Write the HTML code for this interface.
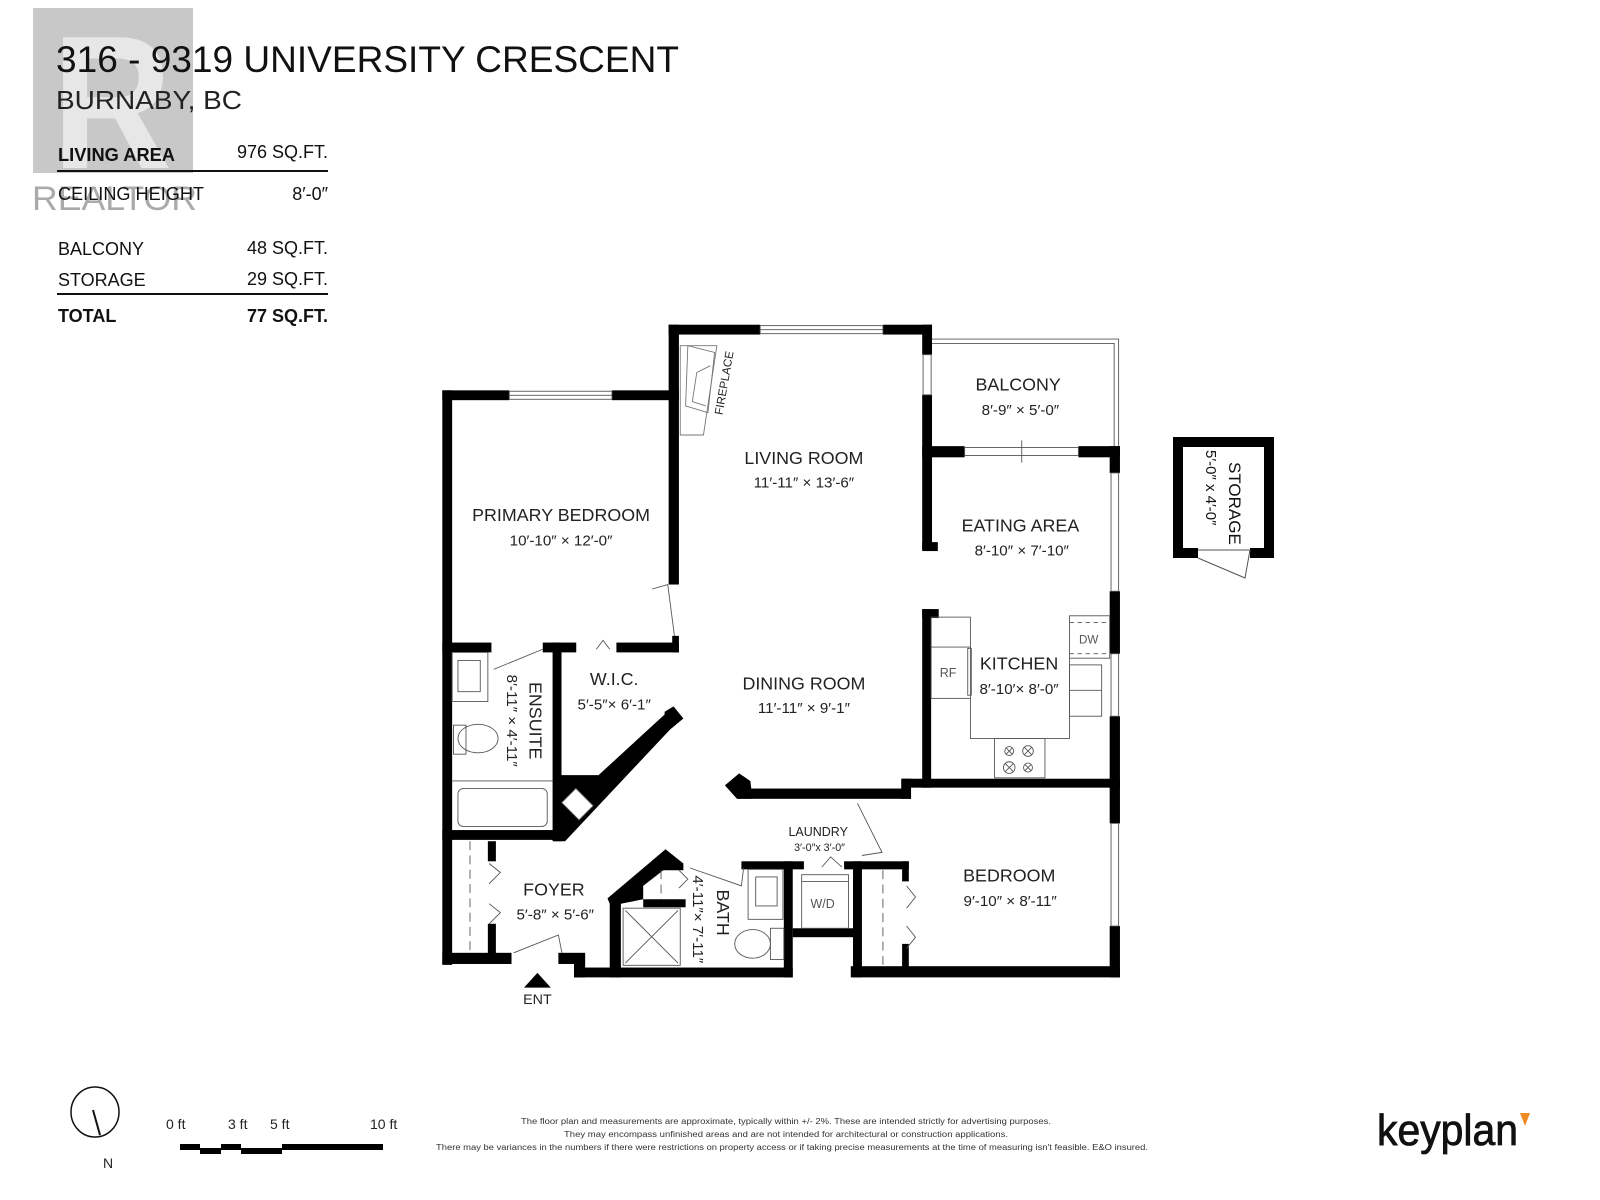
<!DOCTYPE html>
<html><head><meta charset="utf-8"><style>html,body{margin:0;padding:0;background:#fff}svg{display:block}</style></head>
<body>
<svg width="1600" height="1200" viewBox="0 0 1600 1200" xmlns="http://www.w3.org/2000/svg" font-family="Liberation Sans, sans-serif">
<!-- realtor watermark -->
<rect x="33" y="8" width="160" height="165" fill="#9a9a9a" opacity="0.55"/>
<text x="52" y="168" font-size="190" font-weight="bold" fill="#f2f2f2" opacity="0.75" textLength="120" lengthAdjust="spacingAndGlyphs">R</text>
<text x="32" y="210" font-size="34" fill="#aaa" textLength="165" lengthAdjust="spacingAndGlyphs">REALTOR</text>
<!-- header -->
<text x="56" y="72" font-size="37" fill="#111" textLength="623" lengthAdjust="spacingAndGlyphs">316 - 9319 UNIVERSITY CRESCENT</text>
<text x="56" y="109" font-size="26" fill="#222" textLength="186" lengthAdjust="spacingAndGlyphs">BURNABY, BC</text>
<g font-size="18" fill="#111">
<text x="58" y="161" font-weight="bold" textLength="117" lengthAdjust="spacingAndGlyphs">LIVING AREA</text>
<text x="328" y="158" text-anchor="end">976 SQ.FT.</text>
<line x1="57" y1="171" x2="328" y2="171" stroke="#111" stroke-width="2"/>
<text x="58" y="200" textLength="146" lengthAdjust="spacingAndGlyphs">CEILING HEIGHT</text>
<text x="328" y="200" text-anchor="end">8′-0″</text>
<text x="58" y="255">BALCONY</text>
<text x="328" y="254" text-anchor="end">48 SQ.FT.</text>
<text x="58" y="286">STORAGE</text>
<text x="328" y="285" text-anchor="end">29 SQ.FT.</text>
<line x1="57" y1="294" x2="328" y2="294" stroke="#111" stroke-width="2"/>
<text x="58" y="322" font-weight="bold">TOTAL</text>
<text x="328" y="322" text-anchor="end" font-weight="bold">77 SQ.FT.</text>
</g>

<!-- floor plan in zoom coords -->
<g transform="translate(420,310) scale(0.4464)">
<g fill="#000">
<rect x="557" y="33" width="205" height="22"/><rect x="1037" y="33" width="110" height="22"/>
<rect x="557" y="33" width="23" height="582"/><rect x="565" y="730" width="15" height="37"/>
<rect x="50" y="180" width="150" height="22"/><rect x="430" y="180" width="150" height="22"/>
<rect x="50" y="180" width="22" height="1287"/>
<rect x="50" y="745" width="110" height="22"/><rect x="275" y="745" width="75" height="22"/><rect x="440" y="745" width="140" height="22"/>
<rect x="297" y="745" width="20" height="445"/>
<rect x="50" y="1165" width="260" height="22"/>
<!-- diagonal -->
<polygon points="548,900 568,888 590,915 560,940 325,1190 300,1190 300,1042 400,1042 548,906"/>
<rect x="1125" y="33" width="22" height="67"/><rect x="1125" y="190" width="22" height="345"/><rect x="1125" y="520" width="35" height="20"/>
<rect x="1125" y="305" width="95" height="25"/><rect x="1475" y="305" width="93" height="25"/>
<rect x="1545" y="305" width="23" height="60"/><rect x="1545" y="630" width="23" height="140"/><rect x="1545" y="910" width="23" height="160"/>
<rect x="1545" y="1050" width="23" height="100"/><rect x="1545" y="1380" width="23" height="115"/>
<rect x="1125" y="670" width="20" height="400"/><rect x="1125" y="670" width="37" height="20"/>
<rect x="1080" y="1050" width="488" height="20"/>
<rect x="710" y="1072" width="390" height="23"/><rect x="1078" y="1050" width="22" height="45"/>
<polygon points="683,1065 715,1038 740,1055 745,1095 710,1095"/>
<rect x="970" y="1235" width="20" height="260"/><rect x="950" y="1235" width="145" height="18"/>
<rect x="1080" y="1235" width="15" height="45"/><rect x="1080" y="1420" width="15" height="70"/>
<rect x="965" y="1470" width="603" height="25"/>
<rect x="152" y="1190" width="18" height="45"/><rect x="152" y="1375" width="18" height="75"/>
<rect x="50" y="1440" width="155" height="25"/><rect x="310" y="1440" width="35" height="25"/><rect x="345" y="1440" width="25" height="55"/>
<rect x="345" y="1473" width="490" height="22"/>
<polygon points="420,1318 550,1208 590,1240 590,1255 545,1255 500,1290 500,1320 450,1330 450,1495 425,1495 425,1330"/>
<rect x="500" y="1320" width="95" height="18"/>
<rect x="720" y="1235" width="140" height="18"/>
<rect x="815" y="1235" width="20" height="260"/>
<rect x="835" y="1385" width="135" height="20"/>
</g>
<rect x="330" y="1080" width="45" height="55" transform="rotate(-45 352 1107)" fill="#fff" stroke="#555" stroke-width="2"/>
<g fill="none" stroke="#555" stroke-width="2">
<rect x="762" y="35" width="275" height="18"/><line x1="762" y1="44" x2="1037" y2="44"/>
<rect x="200" y="182" width="230" height="18"/><line x1="200" y1="191" x2="430" y2="191"/>
<rect x="1127" y="100" width="18" height="90"/>
<rect x="1220" y="308" width="255" height="18"/><line x1="1348" y1="292" x2="1348" y2="342"/>
<rect x="1548" y="365" width="17" height="265"/><rect x="1548" y="770" width="17" height="140"/><rect x="1548" y="1150" width="17" height="230"/>
<polyline points="1147,65 1565,65 1565,305"/><polyline points="1147,75 1555,75 1555,305"/>
<polygon points="583,80 665,80 635,280 583,280" stroke="#777"/>
<polygon points="600,80 660,95 645,230 595,215" stroke="#777"/>
<polyline points="650,125 620,140 610,205 640,215" stroke="#777"/>
<polyline points="520,625 555,615 570,730"/>
<polyline points="165,805 275,760"/>
<polyline points="395,760 410,740 425,760"/>
<polyline points="980,1105 1035,1215 990,1222"/>
<polyline points="900,1248 920,1225 945,1248"/>
<polyline points="605,1250 720,1290 725,1250"/>
<polyline points="210,1440 310,1400 318,1440"/>
<polyline points="155,1240 180,1260 155,1285"/><polyline points="155,1330 180,1350 155,1375"/>
<polyline points="1090,1290 1110,1315 1090,1340"/><polyline points="1090,1380 1110,1405 1090,1430"/>
<polyline points="580,1255 600,1275 580,1295"/>
<line x1="112" y1="1190" x2="112" y2="1440" stroke-dasharray="20,12"/>
<line x1="1037" y1="1255" x2="1037" y2="1470" stroke-dasharray="20,12"/>
<line x1="540" y1="1255" x2="540" y2="1320" stroke-dasharray="20,12"/>
<rect x="72" y="767" width="80" height="110"/><rect x="85" y="785" width="50" height="70"/>
<ellipse cx="130" cy="960" rx="45" ry="32"/><rect x="75" y="930" width="28" height="65"/>
<line x1="72" y1="1055" x2="297" y2="1055"/>
<rect x="85" y="1072" width="200" height="85" rx="12"/>
<rect x="1145" y="688" width="88" height="182"/><line x1="1145" y1="755" x2="1233" y2="755"/>
<rect x="1227" y="758" width="8" height="105"/>
<polyline points="1233,870 1233,960 1455,960 1455,780"/>
<rect x="1455" y="685" width="90" height="95"/><line x1="1455" y1="700" x2="1545" y2="700" stroke-dasharray="10,8"/><line x1="1455" y1="770" x2="1545" y2="770" stroke-dasharray="10,8"/>
<rect x="1455" y="795" width="72" height="115"/><line x1="1455" y1="852" x2="1527" y2="852"/>
<rect x="1287" y="960" width="113" height="88"/>
<circle cx="1320" cy="988" r="10"/><circle cx="1362" cy="988" r="12"/><circle cx="1320" cy="1025" r="13"/><circle cx="1362" cy="1025" r="10"/>
<path d="M1313,981 l14,14 M1327,981 l-14,14 M1354,980 l16,16 M1370,980 l-16,16 M1311,1016 l18,18 M1329,1016 l-18,18 M1355,1018 l14,14 M1369,1018 l-14,14"/>
<rect x="455" y="1340" width="128" height="128"/><line x1="460" y1="1345" x2="578" y2="1463"/><line x1="578" y1="1345" x2="460" y2="1463"/>
<rect x="735" y="1253" width="78" height="112"/><rect x="752" y="1270" width="48" height="65"/>
<ellipse cx="745" cy="1420" rx="40" ry="32"/><rect x="785" y="1385" width="30" height="70"/>
<rect x="855" y="1265" width="105" height="120"/><line x1="855" y1="1280" x2="960" y2="1280"/>
</g>
<g font-size="40" fill="#222" text-anchor="middle">
<text x="860" y="345">LIVING ROOM</text><text x="860" y="398" font-size="34">11′-11″  ×  13′-6″</text>
<text x="316" y="473">PRIMARY BEDROOM</text><text x="316" y="528" font-size="34">10′-10″ ×  12′-0″</text>
<text x="1340" y="180">BALCONY</text><text x="1345" y="235" font-size="34">8′-9″  ×  5′-0″</text>
<text x="1345" y="496">EATING AREA</text><text x="1348" y="550" font-size="34">8′-10″  ×  7′-10″</text>
<text x="860" y="850">DINING ROOM</text><text x="860" y="903" font-size="34">11′-11″  ×   9′-1″</text>
<text x="435" y="840">W.I.C.</text><text x="435" y="895" font-size="34">5′-5″× 6′-1″</text>
<text x="1342" y="805">KITCHEN</text><text x="1342" y="860" font-size="34">8′-10′× 8′-0″</text>
<text x="1183" y="822" font-size="28" fill="#555">RF</text>
<text x="1498" y="747" font-size="26" fill="#555">DW</text>
<text x="1320" y="1280">BEDROOM</text><text x="1322" y="1335" font-size="34">9′-10″  ×   8′-11″</text>
<text x="300" y="1312">FOYER</text><text x="303" y="1365" font-size="34">5′-8″  ×  5′-6″</text>
<text x="892" y="1178" font-size="28">LAUNDRY</text><text x="895" y="1212" font-size="24">3′-0″x 3′-0″</text>
<text x="902" y="1340" font-size="28" fill="#555">W/D</text>
<text x="263" y="1555" font-size="32">ENT</text>
<text transform="translate(245,920) rotate(90)" font-size="40">ENSUITE</text>
<text transform="translate(195,920) rotate(90)" font-size="34">8′-11″ × 4′-11″</text>
<text transform="translate(665,1350) rotate(90)" font-size="40">BATH</text>
<text transform="translate(612,1365) rotate(90)" font-size="34">4′-11″× 7′-11″</text>
<text transform="translate(690,165) rotate(-80)" font-size="26">FIREPLACE</text>
</g>
<polygon points="233,1518 263,1485 293,1518" fill="#000"/>
</g>

<!-- storage -->
<g>
<rect x="1173" y="437" width="101" height="10"/><rect x="1173" y="437" width="10" height="121"/><rect x="1264" y="437" width="10" height="121"/>
<rect x="1173" y="548" width="25" height="10"/><rect x="1250" y="548" width="24" height="10"/>
<polyline points="1198,550 1250,550 1245,578 1198,558" fill="none" stroke="#555" stroke-width="1"/>
<text transform="translate(1229,462) rotate(90)" font-size="17" fill="#111">STORAGE</text>
<text transform="translate(1206,450) rotate(90)" font-size="15" fill="#111">5′-0″ x 4′-0″</text>
</g>

<!-- footer -->
<ellipse cx="95" cy="1112" rx="24" ry="25" fill="none" stroke="#111" stroke-width="1.5"/>
<line x1="93" y1="1110" x2="100" y2="1135" stroke="#111" stroke-width="2"/>
<text x="108" y="1168" font-size="14" text-anchor="middle" fill="#222">N</text>
<g font-size="14" fill="#222">
<text x="166" y="1129">0 ft</text><text x="228" y="1129">3 ft</text><text x="270" y="1129">5 ft</text><text x="370" y="1129">10 ft</text>
</g>
<g fill="#000">
<rect x="180" y="1144" width="20" height="6"/><rect x="200" y="1148" width="21" height="6"/><rect x="221" y="1144" width="20" height="6"/><rect x="241" y="1148" width="41" height="6"/><rect x="282" y="1144" width="101" height="6"/>
</g>
<g font-size="8" fill="#333" text-anchor="middle">
<text x="786" y="1124" textLength="530" lengthAdjust="spacingAndGlyphs">The floor plan and measurements are approximate, typically within +/- 2%. These are intended strictly for advertising purposes.</text>
<text x="786" y="1137" textLength="444" lengthAdjust="spacingAndGlyphs">They may encompass unfinished areas and are not intended for architectural or construction applications.</text>
<text x="792" y="1150" textLength="712" lengthAdjust="spacingAndGlyphs">There may be variances in the numbers if there were restrictions on property access or if taking precise measurements at the time of measuring isn't feasible. E&amp;O insured.</text>
</g>
<text x="1377" y="1145" font-size="44" fill="#111" stroke="#111" stroke-width="0.8" textLength="141" lengthAdjust="spacingAndGlyphs">keyplan</text>
<polygon points="1520,1113 1530,1113 1525,1126" fill="#f08a24"/>
</svg>
</body></html>
